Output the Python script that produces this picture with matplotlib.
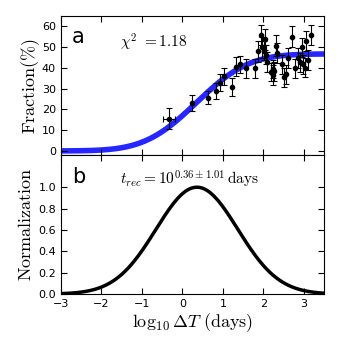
import numpy as np
import matplotlib
matplotlib.use('Agg')
import matplotlib.pyplot as plt

plt.rcParams['mathtext.fontset'] = 'cm'
plt.rcParams['font.family'] = 'DejaVu Sans'

# data points (log10 dT, fraction %)
x_pts = [-0.33, 0.23, 0.63, 0.82, 0.93, 1.03, 1.23, 1.32, 1.42, 1.56, 1.80,
         1.87, 1.94, 1.97, 2.01, 2.05, 2.07, 2.09, 2.20, 2.23, 2.25, 2.27, 2.31,
         2.35, 2.45, 2.51, 2.55, 2.62, 2.71, 2.79, 2.86, 2.91, 2.95, 2.98,
         3.02, 3.06, 3.10, 3.18]
y_pts = [15.6, 23.2, 25.7, 28.9, 32.9, 35.9, 30.8, 40.6, 41.7, 39.8, 39.8,
         47.9, 55.9, 49.8, 48.2, 53.8, 46.3, 43.0, 38.0, 36.7, 39.5, 38.4, 50.6,
         47.0, 41.8, 35.4, 36.8, 44.9, 54.9, 39.8, 44.9, 42.7, 49.8, 41.8,
         40.0, 52.7, 43.8, 55.9]
y_err = [5.2, 3.8, 3.0, 4.0, 4.0, 4.2, 4.5, 4.5, 4.2, 4.6, 4.5,
         5.0, 4.8, 5.0, 4.6, 5.0, 4.5, 4.8, 4.5, 4.8, 4.5, 4.6, 5.0,
         4.8, 4.6, 4.6, 4.6, 4.8, 5.0, 4.6, 4.8, 4.6, 4.8, 4.6,
         4.6, 4.8, 4.6, 4.8]
x_err = [0.16] + [0.0] * (len(x_pts) - 1)

# fit parameters
mu = 0.36
sigma = 1.01
plateau = 46.7

x = np.linspace(-3, 3.5, 500)
gauss = np.exp(-(x - mu) ** 2 / (2 * sigma ** 2))
cdf = np.cumsum(gauss)
cdf = cdf / (sigma * np.sqrt(2 * np.pi)) * (x[1] - x[0])
cdf = cdf + 0.5 * (1 - cdf[-1] - cdf[0])  # small offset so tails match

fig = plt.figure(figsize=(3.44, 3.38), dpi=100)
ax1 = fig.add_axes([0.177, 0.541, 0.765, 0.412])
ax2 = fig.add_axes([0.177, 0.130, 0.765, 0.411])

ax1.plot(x, plateau * cdf, color=(0.15, 0.15, 1.0), lw=4, zorder=1)
ax1.errorbar(x_pts, y_pts, yerr=y_err, xerr=x_err, fmt='o', color='black',
             ms=3, elinewidth=0.8, capsize=2.5, capthick=0.8, zorder=2)
ax1.set_xlim(-3, 3.5)
ax1.set_ylim(-2, 65)
ax1.set_yticks(range(0, 61, 10))
ax1.set_xticks(range(-3, 4))
ax1.set_xticklabels([])
ax1.set_ylabel(r'$\mathrm{Fraction(\%)}$', fontsize=13, labelpad=0)
ax1.text(0.042, 0.806, 'a', transform=ax1.transAxes, fontsize=15)
ax1.text(0.224, 0.77, r'$\chi^2\ =1.18$', transform=ax1.transAxes, fontsize=11)

ax2.plot(x, gauss, color='black', lw=2.5)
ax2.set_xlim(-3, 3.5)
ax2.set_ylim(0, 1.3)
ax2.set_yticks(np.arange(0, 1.01, 0.2))
ax2.set_xticks(range(-3, 4))
ax2.set_ylabel(r'$\mathrm{Normalization}$', fontsize=13, labelpad=2)
ax2.set_xlabel(r'$\log_{10}\Delta T\ \mathrm{(days)}$', fontsize=13, labelpad=2)
ax2.text(0.042, 0.80, 'b', transform=ax2.transAxes, fontsize=15)
ax2.text(0.224, 0.784, r'$t_{rec}=10^{0.36\pm1.01}\,\mathrm{days}$',
         transform=ax2.transAxes, fontsize=11)

for ax in (ax1, ax2):
    ax.tick_params(direction='in', top=True, right=True, labelsize=8, length=4)

ax2.yaxis.set_major_formatter(matplotlib.ticker.FormatStrFormatter('%.1f'))

fig.savefig('out.png', dpi=100)
